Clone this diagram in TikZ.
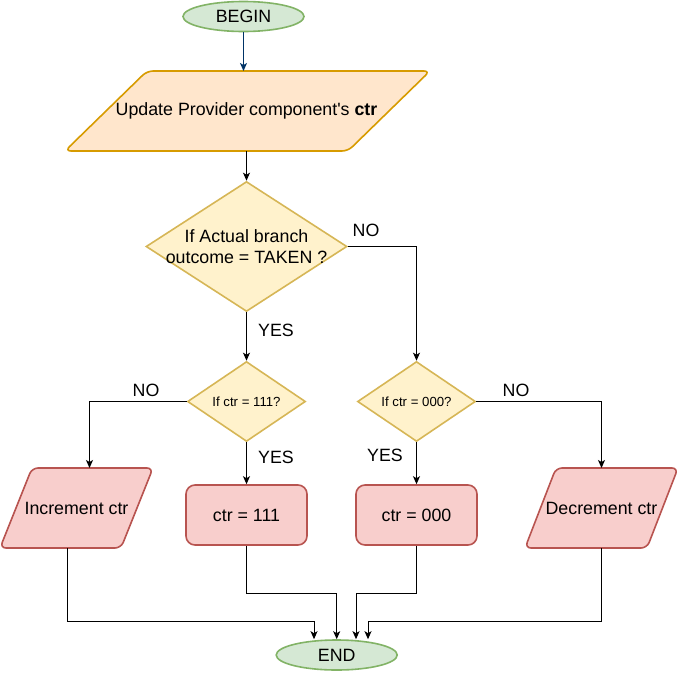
\documentclass[tikz,border=0pt]{standalone}
\usepackage{fontspec}
\setmainfont{Liberation Sans}[Ligatures=TeXOff]
\usetikzlibrary{shapes.geometric,arrows.meta}
\definecolor{gfill}{HTML}{D5E8D4}\definecolor{gline}{HTML}{82B366}
\definecolor{ofill}{HTML}{FFE6CC}\definecolor{oline}{HTML}{D79B00}
\definecolor{yfill}{HTML}{FFF2CC}\definecolor{yline}{HTML}{D6B656}
\definecolor{rfill}{HTML}{F8CECC}\definecolor{rline}{HTML}{B85450}
\definecolor{navy}{HTML}{003366}
\tikzset{
  big/.style={font=\fontsize{17.8}{21.1}\selectfont},
  small/.style={font=\fontsize{13.2}{15.8}\selectfont},
  term/.style={ellipse,draw=gline,fill=gfill,line width=1.6pt,minimum width=121pt,minimum height=30pt,inner sep=0pt,big},
  orshape/.style={draw=oline,fill=ofill,line width=1.6pt,rounded corners=6pt},
  redshape/.style={draw=rline,fill=rfill,line width=1.6pt,rounded corners=6pt},
  rbox/.style={rectangle,draw=rline,fill=rfill,line width=1.6pt,rounded corners=9pt,minimum width=121pt,minimum height=60pt,inner sep=0pt,big},
  dia/.style={diamond,draw=yline,fill=yfill,line width=1.6pt,inner sep=0pt},
  txt/.style={inner sep=0pt,align=center,big},
  arr/.style={draw=black,line width=1pt,-{Stealth[length=8pt,width=7pt,inset=2pt]}},
  lbl/.style={inner sep=0pt,big},
}
\begin{document}
\begin{tikzpicture}[x=1pt,y=-1pt]
\useasboundingbox (0,0) rectangle (677,672);
% BEGIN
\node[term] (begin) at (243.5,16.5) {BEGIN};
% Update parallelogram
\draw[orshape] (65,151) -- (147,71) -- (430,71) -- (348,151) -- cycle;
\node[txt] (upd) at (246.5,111) {Update Provider component's \textbf{ctr}};
\coordinate (updT) at (243.5,71);
\coordinate (updB) at (246.5,151);
% big decision
\node[dia,minimum width=201pt,minimum height=130pt] (q1) at (246.5,246.5) {};
\node[txt] (q1t) at (246.5,246.5) {If Actual branch\\outcome = TAKEN ?};
% small decisions
\node[dia,minimum width=118pt,minimum height=80pt] (d1) at (246.5,401.5) {};
\node[txt,small] (d1t) at (246.5,401.5) {If ctr = 111?};
\node[dia,minimum width=118pt,minimum height=80pt] (d2) at (416.5,401.5) {};
\node[txt,small] (d2t) at (416.5,401.5) {If ctr = 000?};
% actions
\draw[redshape] (0,548) -- (32,468) -- (153,468) -- (121,548) -- cycle;
\node[txt] (inc) at (76.5,508) {Increment ctr};
\coordinate (incT) at (89.5,468);
\coordinate (incB) at (67,548);
\node[rbox] (r1) at (246.5,515) {ctr = 111};
\node[rbox] (r2) at (416.5,515) {ctr = 000};
\draw[redshape] (525,548) -- (556,468) -- (678,468) -- (647,548) -- cycle;
\node[txt] (dec) at (601.5,508) {Decrement ctr};
\coordinate (decT) at (601.5,468);
\coordinate (decB) at (601.5,548);
% END
\node[term] (endn) at (336.7,655) {END};
\coordinate (j1) at (314,621);
\coordinate (j2) at (336.7,593);
\coordinate (j3) at (356,593);
\coordinate (j4) at (368,621);
% connectors
\draw[arr,draw=navy,navy] (begin.south) -- (updT);
\draw[arr] (updB) -- (q1.north);
\draw[arr] (q1.east) -| (d2.north);
\draw[arr] (q1.south) -- (d1.north);
\draw[arr] (d1.west) -| (incT);
\draw[arr] (d1.south) -- (r1.north);
\draw[arr] (d2.south) -- (r2.north);
\draw[arr] (d2.east) -| (decT);
\draw[arr] (incB) |- (j1) -- (j1 |- endn.north);
\draw[arr] (r1.south) |- (j2) -- (j2 |- endn.north);
\draw[arr] (r2.south) |- (j3) -- (j3 |- endn.north);
\draw[arr] (decB) |- (j4) -- (j4 |- endn.north);
% labels
\node[lbl] (l1) at (366,230) {NO};
\node[lbl] (l2) at (276,330) {YES};
\node[lbl] (l3) at (146,390) {NO};
\node[lbl] (l4) at (276,457) {YES};
\node[lbl] (l5) at (385,455) {YES};
\node[lbl] (l6) at (516,390) {NO};
\end{tikzpicture}
\end{document}
